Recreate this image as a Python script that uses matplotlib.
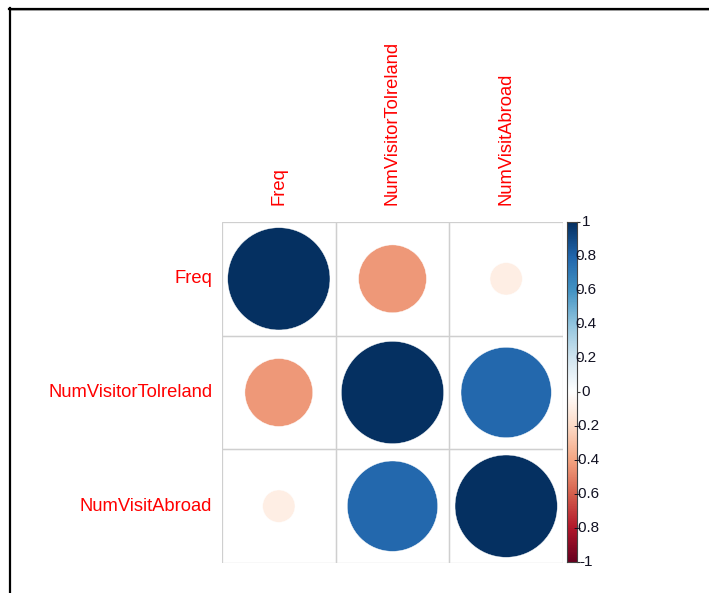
import numpy as np
import matplotlib
matplotlib.use("Agg")
import matplotlib.pyplot as plt
from matplotlib.colors import LinearSegmentedColormap
from matplotlib.patches import Circle, Rectangle
from matplotlib.lines import Line2D

plt.rcParams['font.family'] = ['Liberation Sans', 'DejaVu Sans']

# variables and their pairwise correlations
var_names = ["Freq", "NumVisitorToIreland", "NumVisitAbroad"]
shown_names = ["Freq", "NumVisitorTolreland", "NumVisitAbroad"]
r_freq_visitors = -0.44
r_freq_abroad = -0.10
r_visitors_abroad = 0.78
legend_ticks = [1, 0.8, 0.6, 0.4, 0.2, 0, -0.2, -0.4, -0.6, -0.8, -1]

corr = np.array([
    [1.0, r_freq_visitors, r_freq_abroad],
    [r_freq_visitors, 1.0, r_visitors_abroad],
    [r_freq_abroad, r_visitors_abroad, 1.0],
])

# RdBu palette, same stops as corrplot's COL2('RdBu')
rdbu = ["#67001F", "#B2182B", "#D6604D", "#F4A582", "#FDDBC7", "#FFFFFF",
        "#D1E5F0", "#92C5DE", "#4393C3", "#2166AC", "#053061"]
cmap = LinearSegmentedColormap.from_list("rdbu", rdbu, N=200)

W, H = 709, 593
fig = plt.figure(figsize=(W / 100, H / 100), dpi=100)


def px_box(x0, y0, x1, y1):
    return [x0 / W, 1 - y1 / H, (x1 - x0) / W, (y1 - y0) / H]


# --- correlation grid ---
ax = fig.add_axes(px_box(222, 222, 563, 563))
n = len(var_names)
ax.set_xlim(0, n)
ax.set_ylim(n, 0)
ax.axis("off")

for i in range(n):
    for j in range(n):
        ax.add_patch(Rectangle((j, i), 1, 1, fill=False, ec="#CFCFCF", lw=0.9))
        r = corr[i, j]
        rad = 0.9 * np.sqrt(abs(r)) / 2
        ax.add_patch(Circle((j + 0.5, i + 0.5), rad, color=cmap((r + 1) / 2),
                            ec="white", lw=0.3))

for k, name in enumerate(shown_names):
    ax.text(-0.085, k + 0.5, name, color="red", fontsize=13.2,
            ha="right", va="center")
    ax.text(k + 0.5, -0.15, name, color="red", fontsize=13.2,
            ha="center", va="bottom", rotation=90)

# --- colour legend ---
cax = fig.add_axes(px_box(567, 222, 577, 562))
grad = np.linspace(1, -1, 400).reshape(-1, 1)
cax.imshow(grad, cmap=cmap, vmin=-1, vmax=1, aspect="auto",
           extent=[0, 1, -1, 1], origin="upper")
cax.set_xlim(0, 1)
cax.set_ylim(-1, 1)
cax.set_xticks([])
cax.yaxis.tick_right()
cax.set_yticks(legend_ticks)
cax.tick_params(axis="y", length=2.5, width=0.8, color="#333333", labelright=False)
for s in cax.spines.values():
    s.set_color("#444444")
    s.set_linewidth(0.8)
for t in legend_ticks:
    lab = "0" if t == 0 else f"{t:g}"
    cax.text(1.9, t, lab, transform=cax.get_yaxis_transform(), fontsize=11,
             color="#111122", ha="center", va="center")

# outer frame
fig.add_artist(Line2D([9 / W, 1], [1 - 8.5 / H] * 2, color="black", lw=1.6,
                      transform=fig.transFigure))
fig.add_artist(Line2D([9 / W, 1], [1 - 10.2 / H] * 2, color="#999999", lw=0.7,
                      transform=fig.transFigure))
fig.add_artist(Line2D([10 / W] * 2, [0, 1 - 8 / H], color="black", lw=1.6,
                      transform=fig.transFigure))

fig.savefig("out.png", dpi=100)
